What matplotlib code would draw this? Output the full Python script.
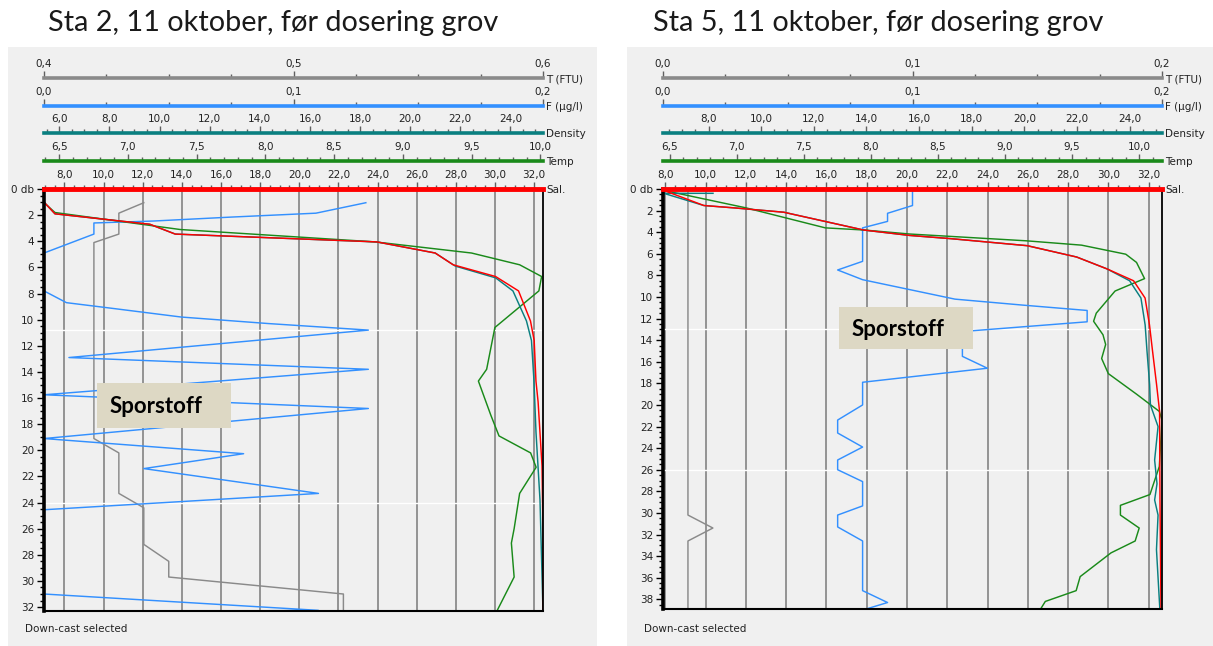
import matplotlib
matplotlib.use("Agg")
import matplotlib.pyplot as plt
from matplotlib.patches import Rectangle
from matplotlib.ticker import FuncFormatter, MultipleLocator
import numpy as np

# ---- Sta 2 (left) ----
sta2_T_depth = [1.05, 1.85, 3.45, 4.1, 19.1, 20.2, 23.3, 24.4, 27.2, 28.5, 29.7, 31.0, 32.4]
sta2_T = [0.440, 0.430, 0.430, 0.420, 0.420, 0.430, 0.430, 0.440, 0.440, 0.450, 0.450, 0.520, 0.520]

sta2_F_depth = [1.05, 1.85, 2.15, 2.45, 2.6, 3.45, 4.9, 7.8, 8.7, 9.15, 9.8, 10.3, 10.8, 12.9, 13.8,
                15.75, 16.8, 19.1, 20.26, 21.4, 23.3, 24.55, 31.0, 32.25, 32.4]
sta2_F = [0.129, 0.109, 0.075, 0.044, 0.020, 0.020, 0.0, 0.0, 0.009, 0.028, 0.055, 0.090, 0.130, 0.010,
          0.130, 0.0, 0.130, 0.0, 0.080, 0.040, 0.110, 0.0, 0.0, 0.110, 0.0]

sta2_Temp_depth = [1.05, 1.8, 3.1, 4.05, 4.9, 5.8, 6.7, 7.8, 10.6, 13.8, 14.7, 17.3, 18.9, 20.2,
                   21.3, 23.3, 26.0, 27.1, 29.7, 32.4]
sta2_Temp = [6.39, 6.47, 7.38, 8.80, 9.50, 9.85, 10.01, 9.99, 9.67, 9.61, 9.55, 9.64, 9.70, 9.93,
             9.97, 9.85, 9.81, 9.79, 9.81, 9.68]

sta2_Sal_depth = [1.0, 1.9, 2.7, 3.45, 4.05, 4.9, 5.8, 6.7, 7.8, 10.1, 11.6, 14.7, 16.3, 21.2, 26.4, 32.4]
sta2_Sal = [6.96, 7.52, 12.37, 13.66, 23.97, 26.94, 27.86, 30.03, 31.20, 31.81, 32.00, 32.09, 32.20,
            32.40, 32.45, 32.45]

sta2_Dens_depth = [1.0, 1.9, 2.7, 3.45, 4.05, 4.9, 5.9, 6.8, 7.8, 10.1, 11.6, 14.7, 18.6, 23.8, 32.4]
sta2_Dens = [5.39, 5.83, 9.61, 10.63, 18.67, 21.00, 21.80, 23.41, 24.10, 24.64, 24.84, 24.94, 25.02,
             25.18, 25.30]

# ---- Sta 5 (right) ----
sta5_T_depth = [0.3, 30.2, 31.4, 32.6, 38.9]
sta5_T = [0.010, 0.010, 0.020, 0.010, 0.010]

sta5_F_depth = [0.2, 1.53, 2.25, 3.0, 3.6, 6.7, 7.5, 8.4, 10.2, 10.75, 11.25, 12.3, 13.2, 15.5, 16.6,
                17.9, 20.0, 21.4, 22.6, 23.9, 25.1, 26.0, 27.1, 29.35, 30.2, 31.3, 32.6, 37.2, 38.3, 39.0]
sta5_F = [0.100, 0.100, 0.090, 0.090, 0.080, 0.080, 0.070, 0.080, 0.117, 0.144, 0.170, 0.170, 0.120,
          0.120, 0.130, 0.080, 0.080, 0.070, 0.070, 0.080, 0.070, 0.070, 0.080, 0.080, 0.070, 0.070,
          0.080, 0.080, 0.090, 0.080]

sta5_Temp_depth = [0.14, 1.75, 3.6, 3.8, 4.17, 4.8, 5.2, 6.04, 6.8, 8.3, 9.45, 11.5, 12.25, 13.5, 14.4,
                   15.7, 17.1, 19.0, 20.6, 21.4, 25.7, 28.3, 29.3, 30.2, 31.4, 32.6, 33.7, 35.9, 37.2,
                   38.2, 39.0]
sta5_Temp = [6.46, 7.07, 7.66, 7.95, 8.29, 9.16, 9.57, 9.90, 9.98, 10.04, 9.82, 9.68, 9.66, 9.73, 9.75,
             9.72, 9.77, 9.98, 10.15, 10.17, 10.15, 10.08, 9.86, 9.86, 10.00, 9.97, 9.79, 9.56, 9.53,
             9.30, 9.26]

sta5_Sal_depth = [0.14, 1.53, 1.75, 2.15, 3.8, 4.3, 4.6, 5.25, 6.3, 7.4, 8.5, 10.1, 12.6, 15.0, 18.1,
                  20.6, 28.8, 39.0]
sta5_Sal = [7.94, 9.92, 11.43, 13.88, 17.85, 20.13, 22.18, 25.97, 28.42, 29.93, 31.25, 31.82, 32.04,
            32.19, 32.39, 32.54, 32.56, 32.61]

sta5_Dens_depth = [0.4, 0.4, 1.53, 1.75, 2.15, 3.8, 4.3, 4.6, 5.25, 6.3, 7.4, 8.5, 10.1, 12.6, 15.0,
                   18.1, 20.0, 22.0, 25.1, 27.3, 28.8, 30.2, 33.4, 39.0]
sta5_Dens = [8.17, 6.30, 7.82, 8.98, 10.86, 13.89, 15.64, 17.21, 20.11, 21.99, 23.14, 24.00, 24.43,
             24.59, 24.66, 24.76, 24.79, 25.08, 24.95, 25.04, 24.95, 25.08, 25.02, 25.15]

titles = ["Sta 2, 11 oktober, før dosering grov", "Sta 5, 11 oktober, før dosering grov"]

W, H = 1213, 646
BG = "#f0f0f0"
GRID = "#8c8c8c"
TICK = "#606060"
C_T, C_F, C_D, C_TEMP, C_S = "#8a8a8a", "#3390ff", "#0a7f80", "#1a8a1a", "#ff0000"

fig = plt.figure(figsize=(W / 100, H / 100), dpi=100)
fig.patch.set_facecolor("white")
comma = FuncFormatter(lambda v, p: f"{v:.1f}".replace(".", ","))


def frect(x0, y0, x1, y1):
    return [x0 / W, 1 - y1 / H, (x1 - x0) / W, (y1 - y0) / H]


def scale_axis(x0, x1, y, lim, major, minor, color, name):
    ax = fig.add_axes(frect(x0, y, x1, y + 0.01))
    ax.patch.set_visible(False)
    ax.set_xlim(lim)
    ax.set_yticks([])
    for s in ["left", "right", "bottom"]:
        ax.spines[s].set_visible(False)
    ax.spines["top"].set_color(color)
    ax.spines["top"].set_linewidth(2.6)
    ax.xaxis.tick_top()
    ax.set_xticks(major)
    ax.xaxis.set_minor_locator(MultipleLocator(minor))
    ax.xaxis.set_major_formatter(comma)
    ax.tick_params(axis="x", which="major", direction="out", length=5, width=1,
                   color=TICK, labelcolor="#222222", labelsize=7.5, pad=1.5)
    ax.tick_params(axis="x", which="minor", direction="out", length=3, width=1, color=TICK)
    fig.text((x1 + 3) / W, 1 - (y + 1) / H, name, fontsize=7.5, va="center", ha="left",
             color="#222222")


def panel(px, title, title_x, data, lims, dmax, seps, dens_major, box):
    x0, x1, top, bot = px
    # panel background + title
    fig.add_artist(Rectangle(((x0 - 36) / W, 0), (x1 - x0 + 90) / W, 1 - 47 / H,
                             transform=fig.transFigure, facecolor=BG, edgecolor="none", zorder=-5))
    fig.text(title_x / W, 1 - 31 / H, title, fontsize=20.8, family="Lato", color="#1a1a1a",
             va="baseline", ha="left")

    sal_major = np.arange(8, 33, 2)
    bg = fig.add_axes(frect(x0, top, x1, bot))
    bg.set_facecolor(BG)
    bg.set_xlim(lims["Sal"])
    bg.set_ylim(dmax, 0)
    bg.set_xticks(sal_major)
    bg.set_yticks([])
    bg.tick_params(length=0, labelbottom=False)
    bg.grid(axis="x", color=GRID, lw=1.3)
    bg.set_axisbelow(True)
    for s in bg.spines.values():
        s.set_visible(False)
    for d in seps:
        bg.axhline(d, color="white", lw=1.0)

    for key, color in [("T", C_T), ("F", C_F), ("Temp", C_TEMP), ("Dens", C_D), ("Sal", C_S)]:
        a = bg.twiny()
        a.set_xlim(lims[key])
        a.axis("off")
        depth, vals = data[key]
        a.plot(vals, depth, color=color, lw=1.05)

    fr = fig.add_axes(frect(x0, top, x1, bot))
    fr.patch.set_visible(False)
    fr.set_xlim(lims["Sal"])
    fr.set_ylim(dmax, 0)
    fr.xaxis.tick_top()
    fr.set_xticks(sal_major)
    fr.xaxis.set_minor_locator(MultipleLocator(0.5))
    fr.xaxis.set_major_formatter(comma)
    fr.tick_params(axis="x", which="major", direction="out", length=5, width=1,
                   color=TICK, labelcolor="#222222", labelsize=7.5, pad=1.5)
    fr.tick_params(axis="x", which="minor", direction="out", length=3, width=1, color=TICK)
    yt = np.arange(0, int(dmax) + 1, 2)
    fr.set_yticks(yt)
    fr.set_yticklabels(["0 db"] + [str(v) for v in yt[1:]])
    fr.yaxis.set_minor_locator(MultipleLocator(0.5))
    fr.tick_params(axis="y", which="major", direction="out", length=5, width=1, color="black",
                   labelcolor="#222222", labelsize=7.5, pad=2)
    fr.tick_params(axis="y", which="minor", direction="out", length=3, width=1, color="black")
    fr.spines["top"].set_color(C_S)
    fr.spines["top"].set_linewidth(3.5)
    fr.spines["left"].set_linewidth(2.6)
    fr.spines["right"].set_linewidth(1.3)
    fr.spines["bottom"].set_linewidth(1.5)
    fig.text((x1 + 3) / W, 1 - (top + 1) / H, "Sal.", fontsize=7.5, va="center", ha="left",
             color="#222222")

    scale_axis(x0, x1, 78, lims["T"], lims["T_major"], 0.025, C_T, "T (FTU)")
    scale_axis(x0, x1, 106, lims["F"], [0.0, 0.1, 0.2], 0.025, C_F, "F (µg/l)")
    scale_axis(x0, x1, 133, lims["Dens"], dens_major, 0.5, C_D, "Density")
    scale_axis(x0, x1, 161, lims["Temp"], np.arange(6.5, 10.01, 0.5), 0.1, C_TEMP, "Temp")

    fig.text((x0 - 19) / W, 1 - 629 / H, "Down-cast selected", fontsize=7.5, va="center",
             color="#222222")

    bx0, by0, bx1, by1 = box
    fig.add_artist(Rectangle((bx0 / W, 1 - by1 / H), (bx1 - bx0) / W, (by1 - by0) / H,
                             transform=fig.transFigure, facecolor="#ddd8c4", edgecolor="none",
                             zorder=5))
    fig.text((bx0 + 13) / W, 1 - ((by0 + by1) / 2 + 1) / H, "Sporstoff", fontsize=16,
             family="Lato", weight="bold", color="black", va="center", ha="left", zorder=6)


panel((44, 543, 189, 611), titles[0], 48,
      {"T": (sta2_T_depth, sta2_T), "F": (sta2_F_depth, sta2_F), "Temp": (sta2_Temp_depth, sta2_Temp),
       "Dens": (sta2_Dens_depth, sta2_Dens), "Sal": (sta2_Sal_depth, sta2_Sal)},
      {"T": (0.4, 0.6), "T_major": [0.4, 0.5, 0.6], "F": (0.0, 0.2), "Dens": (5.39, 25.3),
       "Temp": (6.39, 10.02), "Sal": (6.96, 32.45)},
      32.3, [10.8, 24.0], np.arange(6, 25, 2), (97, 383, 231, 428))

panel((663, 1162, 189, 609), titles[1], 653,
      {"T": (sta5_T_depth, sta5_T), "F": (sta5_F_depth, sta5_F), "Temp": (sta5_Temp_depth, sta5_Temp),
       "Dens": (sta5_Dens_depth, sta5_Dens), "Sal": (sta5_Sal_depth, sta5_Sal)},
      {"T": (0.0, 0.2), "T_major": [0.0, 0.1, 0.2], "F": (0.0, 0.2), "Dens": (6.27, 25.23),
       "Temp": (6.45, 10.17), "Sal": (7.89, 32.66)},
      38.9, [13.0, 26.0], np.arange(8, 25, 2), (839, 307, 973, 349))

fig.savefig("out.png", dpi=100, facecolor="white")
